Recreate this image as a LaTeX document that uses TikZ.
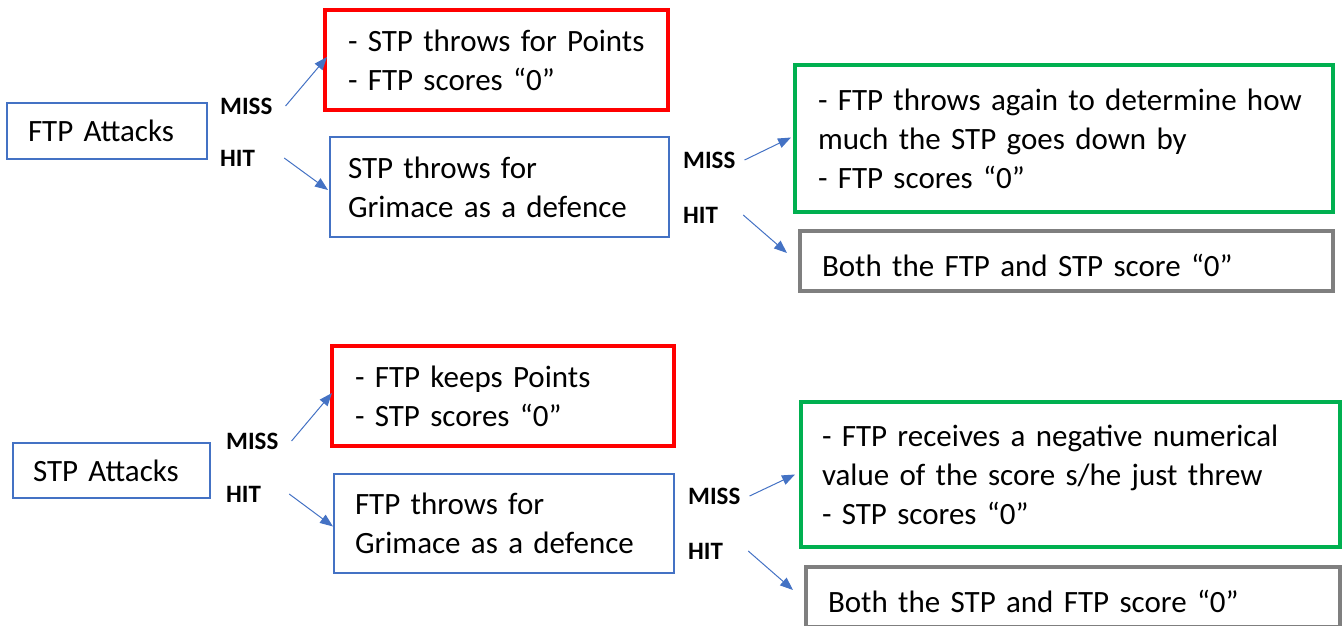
\documentclass[tikz,border=0pt]{standalone}
\usepackage{fontspec}
\setmainfont{Carlito}
\usetikzlibrary{arrows.meta,calc}
\definecolor{cblue}{HTML}{4472C4}
\definecolor{cred}{HTML}{FF0000}
\definecolor{cgreen}{HTML}{00B050}
\definecolor{cgray}{HTML}{7F7F7F}
\newcommand{\oneline}[1]{\mbox{#1}}
\newcommand{\lowline}[1]{\raisebox{-4pt}[\height][\depth]{#1}}
\begin{document}
\begin{tikzpicture}[x=1pt,y=-1pt,
  box/.style={rectangle, anchor=north west, align=left, inner ysep=0pt, outer sep=0pt,
    font=\fontsize{31}{39}\selectfont},
  plainbox/.style={box, draw=cblue, line width=1.2pt},
  redbox/.style={box, draw=cred, line width=4.5pt},
  greenbox/.style={box, draw=cgreen, line width=4.5pt},
  graybox/.style={box, draw=cgray, line width=4.5pt},
  lbl/.style={anchor=west, inner sep=0pt, font=\fontsize{25}{30}\selectfont\bfseries},
  arr/.style={draw=cblue, line width=1pt, -{Triangle[length=13pt,width=10pt]}}
]
\useasboundingbox (0,0) rectangle (1343,625);

% ---------- top tree ----------
\node[plainbox, minimum width=200pt, minimum height=56pt, text width=158pt, inner xsep=21pt] (ftp) at (7,103) {\oneline{FTP Attacks}};
\node[redbox, minimum width=343pt, minimum height=100pt, text width=297pt, inner xsep=23pt] (r1) at (325,10) {\oneline{- STP throws for Points}\\\oneline{- FTP scores “0”}};
\node[plainbox, minimum width=339pt, minimum height=100pt, text width=303pt, inner xsep=18pt] (p1) at (330,137) {\oneline{STP throws for}\\\oneline{Grimace as a defence}};
\node[greenbox, minimum width=538pt, minimum height=147pt, text width=492pt, inner xsep=23pt] (g1) at (795,65) {\oneline{- FTP throws again to determine how}\\\oneline{much the STP goes down by}\\\oneline{- FTP scores “0”}};
\node[graybox, minimum width=533pt, minimum height=60pt, text width=489pt, inner xsep=22pt] (y1) at (800,231) {\lowline{Both the FTP and STP score “0”}};

\node[lbl] (m1) at (220,106) {MISS};
\node[lbl] (h1) at (220,158) {HIT};
\node[lbl] (m2) at (683,160) {MISS};
\node[lbl] (h2) at (683,215) {HIT};

\draw[arr] ([xshift=13pt]m1.east) -- ($(r1.west)+(2,-3)$);
\draw[arr] ([xshift=29pt]h1.east) -- ($(p1.west)+(-2,3)$);
\draw[arr] ([xshift=9pt]m2.east) -- ($(g1.west)+(-4,-1)$);
\draw[arr] ([xshift=25pt]h2.east) -- ($(y1.west)+(-13,-8)$);

% ---------- bottom tree ----------
\node[plainbox, minimum width=197pt, minimum height=55pt, text width=157pt, inner xsep=20pt] (stp) at (13,443) {\oneline{STP Attacks}};
\node[redbox, minimum width=342pt, minimum height=100pt, text width=296pt, inner xsep=23pt] (r2) at (332,346) {\oneline{- FTP keeps Points}\\\oneline{- STP scores “0”}};
\node[plainbox, minimum width=340pt, minimum height=99pt, text width=298pt, inner xsep=21pt] (p2) at (334,474) {\oneline{FTP throws for}\\\oneline{Grimace as a defence}};
\node[greenbox, minimum width=539pt, minimum height=145pt, text width=497pt, inner xsep=21pt] (g2) at (801,402) {\oneline{- FTP receives a negative numerical}\\\oneline{value of the score s/he just threw}\\\oneline{- STP scores “0”}};
\node[graybox, minimum width=534pt, minimum height=60pt, text width=490pt, inner xsep=22pt] (y2) at (806,567) {\lowline{Both the STP and FTP score “0”}};

\node[lbl] (m3) at (226,441) {MISS};
\node[lbl] (h3) at (226,494) {HIT};
\node[lbl] (m4) at (688,496) {MISS};
\node[lbl] (h4) at (688,551) {HIT};

\draw[arr] ([xshift=13pt]m3.east) -- ($(r2.west)+(0,-3)$);
\draw[arr] ([xshift=28pt]h3.east) -- ($(p2.west)+(-1,3)$);
\draw[arr] ([xshift=9pt]m4.east) -- ($(g2.west)+(-6,0)$);
\draw[arr] ([xshift=25pt]h4.east) -- ($(y2.west)+(-13,-7)$);
\end{tikzpicture}
\end{document}
